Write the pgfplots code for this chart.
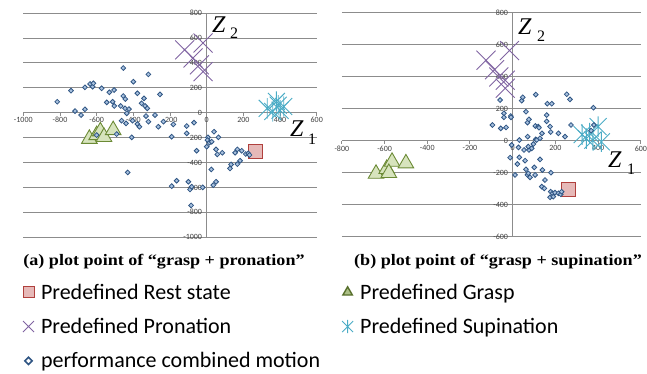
\documentclass[border=0pt]{standalone}
\usepackage{pgfplots}
\pgfplotsset{compat=1.18}
\usepackage{fontspec}
\setmainfont{Liberation Serif}
\newfontfamily\calfont{Carlito}
\definecolor{gridc}{HTML}{8C8C8C}
\definecolor{dfill}{HTML}{A7C0DE}
\definecolor{ddraw}{HTML}{2F5583}
\definecolor{xpurple}{HTML}{8064A2}
\definecolor{xcyan}{HTML}{4BACC6}
\definecolor{tfill}{HTML}{D7E4BD}
\definecolor{tdraw}{HTML}{6B8A35}
\definecolor{sfill}{HTML}{E6B9B8}
\definecolor{sdraw}{HTML}{B0403D}

\pgfdeclareplotmark{xx}{%
  \pgfpathmoveto{\pgfqpoint{-\pgfplotmarksize}{-\pgfplotmarksize}}%
  \pgfpathlineto{\pgfqpoint{\pgfplotmarksize}{\pgfplotmarksize}}%
  \pgfpathmoveto{\pgfqpoint{-\pgfplotmarksize}{\pgfplotmarksize}}%
  \pgfpathlineto{\pgfqpoint{\pgfplotmarksize}{-\pgfplotmarksize}}%
  \pgfusepathqstroke}
\pgfdeclareplotmark{xstar}{%
  \pgfpathmoveto{\pgfqpoint{-\pgfplotmarksize}{-\pgfplotmarksize}}%
  \pgfpathlineto{\pgfqpoint{\pgfplotmarksize}{\pgfplotmarksize}}%
  \pgfpathmoveto{\pgfqpoint{-\pgfplotmarksize}{\pgfplotmarksize}}%
  \pgfpathlineto{\pgfqpoint{\pgfplotmarksize}{-\pgfplotmarksize}}%
  \pgfpathmoveto{\pgfqpoint{0pt}{-1.2\pgfplotmarksize}}%
  \pgfpathlineto{\pgfqpoint{0pt}{1.2\pgfplotmarksize}}%
  \pgfusepathqstroke}

\pgfplotstableread{
x y
264 -308
}\restA
\pgfplotstableread{
x y
-640 -210
-600 -180
-580 -150
-560 -195
-510 -140
}\graspA
\pgfplotstableread{
x y
-120 505
-20 560
-75 440
-40 385
-20 330
}\pronA
\pgfplotstableread{
x y
330 35
380 90
400 20
360 10
420 50
390 60
}\supA
\pgfplotstableread{
x y
-815 88
-740 177
-718 13
-685 -19
-664 27
-664 204
-636 231
-622 209
-618 236
-573 196
-545 83
-531 164
-513 88
-505 182
-504 54
-469 54
-455 359
-455 134
-444 110
-445 35
-436 -5
-424 29
-464 -64
-440 -86
-404 -64
-400 249
-378 156
-355 75
-342 115
-336 54
-324 35
-331 -27
-318 -72
-378 -91
-367 -113
-409 -198
-318 308
-255 147
-282 -19
-264 -113
-236 -72
-431 -480
-182 -94
-191 -193
-109 -107
-109 -166
-69 -80
-55 -306
-191 -590
-164 -547
-100 -555
-91 -617
-82 -595
-22 -600
-85 -745
7 -198
4 -220
0 -273
15 -241
27 -233
25 -456
36 -582
51 -555
40 -153
51 -295
58 -335
64 -198
85 -322
127 -448
133 -416
155 -322
167 -295
167 -413
182 -386
191 -306
213 -332
227 -327
233 -340
-600 -180
-491 -172
}\perfA
\pgfplotstableread{
x y
262 -306
}\restB
\pgfplotstableread{
x y
-640 -205
-590 -175
-565 -130
-500 -140
-580 -200
}\graspB
\pgfplotstableread{
x y
-125 505
-15 565
-85 445
-65 400
-35 380
-35 330
}\pronB
\pgfplotstableread{
x y
325 40
360 50
400 90
375 5
415 -5
345 15
}\supB
\pgfplotstableread{
x y
-95 100
-59 256
-56 79
-31 85
-41 173
-41 148
-9 156
-8 148
-12 -104
-5 -25
11 -212
22 -144
27 -40
31 6
31 -102
42 252
47 273
53 -56
58 -123
62 -177
69 -212
73 -202
76 -56
81 -227
62 183
69 115
76 135
70 27
73 -35
89 -46
97 -19
101 -165
105 -212
108 290
106 94
108 10
112 6
120 90
123 83
128 17
128 -115
137 48
139 -181
136 -285
148 -296
151 -244
159 162
159 123
162 233
175 90
178 56
179 -198
183 233
178 -317
175 -352
187 -327
190 -348
198 -323
214 -327
225 -333
229 -317
214 48
245 27
253 292
268 260
273 100
367 65
378 208
380 100
}\perfB

\pgfplotsset{excel/.style={
  scale only axis, axis lines=middle,
  axis line style={draw=gridc, line width=1pt, -},
  ymajorgrids, grid style={draw=gridc, line width=1pt},
  xtick distance=200, ytick distance=200,
  tick align=outside, major tick length=3pt,
  tick style={draw=gridc, line width=1pt},
  tick label style={font=\calfont\fontsize{8}{9}\selectfont, text=black!75, inner sep=1.5pt},
  /pgf/number format/assume math mode=true,
  /pgf/number format/1000 sep={},
  hide obscured x ticks=false, hide obscured y ticks=false,
  clip=false, anchor=origin,
}}
\pgfplotsset{
  rest/.style={only marks, mark=square*, mark size=7pt, mark options={fill=sfill, draw=sdraw, line width=1pt}},
  grasp/.style={only marks, mark=triangle*, mark size=9pt, mark options={fill=tfill, draw=tdraw, line width=0.9pt}},
  pron/.style={only marks, mark=xx, mark size=9.5pt, mark options={draw=xpurple, line width=0.9pt}},
  sup/.style={only marks, mark=xstar, mark size=8.5pt, mark options={draw=xcyan, line width=0.9pt}},
  perf/.style={only marks, mark=square*, mark size=1.7pt, mark options={rotate=45, fill=dfill, draw=ddraw, line width=0.8pt}},
}

\begin{document}
\begin{tikzpicture}
\path[use as bounding box] (0pt,0pt) rectangle (647pt,374pt);
\begin{axis}[excel, at={(206.7pt,261.3pt)},
  width=293.4pt, height=224pt,
  xmin=-1000, xmax=600, ymin=-1000, ymax=800,
  legend columns=2,
  legend style={at={(-0.012,-0.19)}, anchor=north west, draw=none, fill=none,
    font=\calfont\fontsize{22}{24}\selectfont, row sep=13.5pt,
    /tikz/every odd column/.append style={column sep=5pt},
    /tikz/every even column/.append style={column sep=20pt}},
  legend cell align=left]
\addplot[rest, legend image post style={mark size=5.5pt}] table {\restA};
\addlegendentry{Predefined Rest state}
\addplot[grasp, legend image post style={mark size=5.5pt, mark options={fill=tfill!60!tdraw, draw=tdraw!80!black, line width=1.4pt}}] table {\graspA};
\addlegendentry{Predefined Grasp}
\addplot[pron, legend image post style={mark size=5.5pt}] table {\pronA};
\addlegendentry{Predefined Pronation}
\addplot[sup, legend image post style={mark size=5.5pt}] table {\supA};
\addlegendentry{Predefined Supination}
\addplot[perf, legend image post style={mark size=2.6pt, mark options={rotate=45, fill=white, draw=ddraw, line width=1.6pt}}] table {\perfA};
\addlegendentry{performance combined motion}
\end{axis}
\begin{axis}[excel, at={(512.7pt,233pt)}, width=299pt, height=224pt,
  xmin=-800, xmax=600, ymin=-600, ymax=800]
\addplot[rest] table {\restB};
\addplot[grasp] table {\graspB};
\addplot[pron] table {\pronB};
\addplot[sup] table {\supB};
\addplot[perf] table {\perfB};
\end{axis}
% Z labels
\node[anchor=base west, inner sep=0pt] at (212pt,341pt) {\fontsize{24}{24}\selectfont\itshape Z};
\node[anchor=base west, inner sep=0pt] at (230pt,335pt) {\fontsize{16}{16}\selectfont 2};
\node[anchor=base west, inner sep=0pt] at (290pt,237pt) {\fontsize{24}{24}\selectfont\itshape Z};
\node[anchor=base west, inner sep=0pt] at (308pt,229pt) {\fontsize{16}{16}\selectfont 1};
\node[anchor=base west, inner sep=0pt] at (518pt,339pt) {\fontsize{24}{24}\selectfont\itshape Z};
\node[anchor=base west, inner sep=0pt] at (537pt,332pt) {\fontsize{16}{16}\selectfont 2};
\node[anchor=base west, inner sep=0pt] at (608pt,206pt) {\fontsize{24}{24}\selectfont\itshape Z};
\node[anchor=base west, inner sep=0pt] at (627pt,199pt) {\fontsize{16}{16}\selectfont 1};
% captions
\node[anchor=base, inner sep=0pt] at (164pt,108pt) {\scalebox{1.13}[1]{\bfseries\fontsize{16}{16}\selectfont (a) plot point of ``grasp + pronation''}};
\node[anchor=base, inner sep=0pt] at (498pt,108pt) {\scalebox{1.13}[1]{\bfseries\fontsize{16}{16}\selectfont (b) plot point of ``grasp + supination''}};
\end{tikzpicture}
\end{document}
